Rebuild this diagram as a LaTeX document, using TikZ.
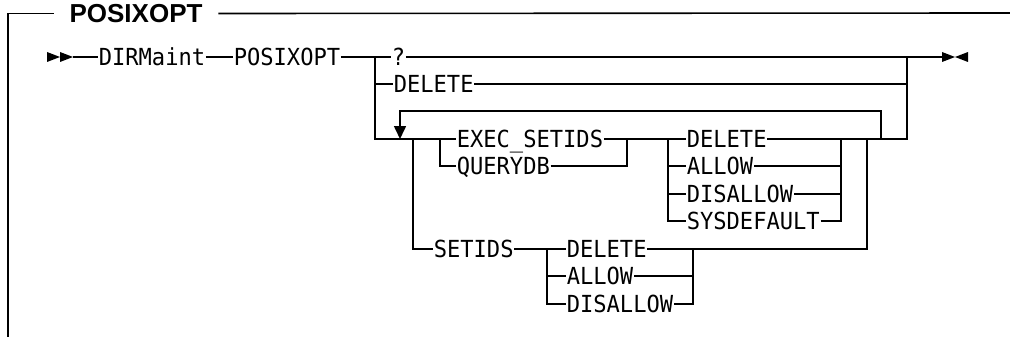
\documentclass[tikz,border=0pt]{standalone}
\usepackage{fontspec}
\setmainfont{Liberation Sans}
\setmonofont[FakeStretch=0.94]{DejaVu Sans Mono}
\usetikzlibrary{arrows.meta,calc}

\begin{document}
\begin{tikzpicture}[x=1pt,y=-1pt,line width=1.6pt,
  kw/.style={font=\ttfamily\fontsize{23.5}{26}\selectfont, inner sep=0pt, anchor=west,
    text height=17pt, text depth=0pt},
  ttl/.style={font=\bfseries\fontsize{26}{29}\selectfont, inner xsep=15pt, inner ysep=0pt},
  loopar/.style={-{Triangle[length=13pt,width=12pt]}}]
  \useasboundingbox (0,0) rectangle (1010,337);
  % section frame
  \node[ttl] (title) at (136,13.5) {POSIXOPT};
  \coordinate (fbot) at (8,337);
  \coordinate (fright) at (1010,13);
  \draw (fbot) |- (title.west);
  \draw (title.east) -- (fright);
  % start and end marks
  \foreach \x in {47,60} \fill (\x,52) -- (\x+13,57) -- (\x,62) -- cycle;
  \fill (942,52) -- (955,57) -- (942,62) -- cycle;
  \fill (968,52) -- (955,57) -- (968,62) -- cycle;
  \coordinate (go) at (73,57);
  \coordinate (fin) at (942,57);
  % main line
  \node[kw] (dirm) at (98,57) {DIRMaint};
  \node[kw] (posix) at (233,57) {POSIXOPT};
  \node[kw] (qm) at (391,57) {?};
  \node[kw] (del1) at (393,84) {DELETE};
  % junctions
  \coordinate (sp) at (375,57);
  \coordinate (jr) at (907,57);
  \coordinate (lpL) at (413,139);
  \coordinate (eL) at (440,139);
  \coordinate (eR) at (627,139);
  \coordinate (vL) at (668,139);
  \coordinate (vR) at (841,139);
  \coordinate (lpR) at (867,139);
  \coordinate (rep) at (881,139);
  \coordinate (rtop) at (881,111);
  \coordinate (ltop) at (400,111);
  \coordinate (ar) at (400,139);
  \coordinate (sL) at (547,249);
  \coordinate (sR) at (693,249);
  % repeated group
  \node[kw] (exec) at (456,139) {EXEC\_SETIDS};
  \node[kw] (qdb) at (456,166) {QUERYDB};
  \node[kw] (d2) at (686,139) {DELETE};
  \node[kw] (a2) at (686,166) {ALLOW};
  \node[kw] (n2) at (686,194) {DISALLOW};
  \node[kw] (s2) at (686,221) {SYSDEFAULT};
  \node[kw] (setids) at (433,249) {SETIDS};
  \node[kw] (d3) at (566,249) {DELETE};
  \node[kw] (a3) at (566,276) {ALLOW};
  \node[kw] (n3) at (566,304) {DISALLOW};
  % connectors
  \draw (go) -- (dirm.west);
  \draw (dirm.east) -- (posix.west);
  \draw (posix.east) -- (qm.west);
  \draw (qm.east) -- (fin);
  \draw (sp) |- (del1.west);
  \draw (del1.east) -| (jr);
  \draw (sp) |- (eL) -- (exec.west);
  \draw (eL) |- (qdb.west);
  \draw (qdb.east) -| (eR);
  \draw (exec.east) -- (d2.west);
  \foreach \v in {a2,n2,s2} {
    \draw (vL) |- (\v.west);
    \draw (\v.east) -| (vR);
  }
  \draw (d2.east) -| (jr);
  \draw[loopar] (rep) -- (rtop) -- (ltop) -- (ar);
  \draw (lpL) |- (setids.west);
  \draw (setids.east) -- (d3.west);
  \foreach \v in {a3,n3} {
    \draw (sL) |- (\v.west);
    \draw (\v.east) -| (sR);
  }
  \draw (d3.east) -| (lpR);
\end{tikzpicture}
\end{document}
